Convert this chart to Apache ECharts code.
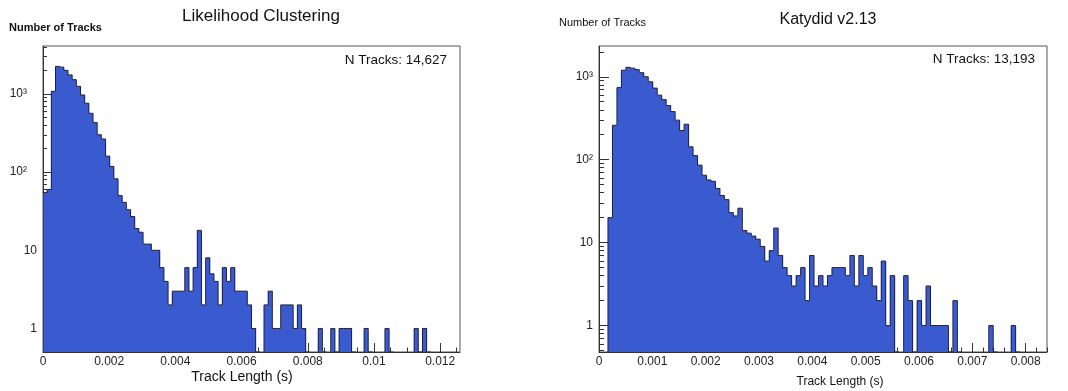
<!DOCTYPE html>
<html>
<head>
<meta charset="utf-8">
<script src="https://cdn.jsdelivr.net/npm/echarts@6/dist/echarts.min.js"></script>
<style>html,body{margin:0;padding:0;background:#fff}#c{width:1068px;height:391px}</style>
</head>
<body>
<div id="c"></div>
<script>
// ---------------- data ----------------
const leftTitle = 'Likelihood Clustering';
const rightTitle = 'Katydid v2.13';
const yTitle = 'Number of Tracks';
const xTitle = 'Track Length (s)';
const leftNote = 'N Tracks: 14,627';
const rightNote = 'N Tracks: 13,193';

const leftRange = [0, 0.0126];   // histogram x range (100 bins)
const rightRange = [0, 0.0084];

const leftCounts = [
  55, 60, 1080, 2250, 2200, 2000, 1750, 1520, 1250, 970,
  760, 565, 430, 300, 265, 160, 118, 82, 50, 41,
  33, 27, 19, 17, 12, 12, 10, 10, 6, 4,
  2, 3, 3, 3, 6, 3, 6, 18, 2, 8,
  5, 4, 2, 6, 4, 6, 3, 3, 3, 2,
  1, 0, 0, 2, 3, 1, 1, 2, 2, 2,
  1, 2, 1, 0, 0, 0, 1, 0, 0, 1,
  0, 1, 1, 1, 0, 0, 0, 1, 0, 0,
  0, 0, 1, 0, 0, 0, 0, 0, 0, 1,
  0, 1, 0, 0, 0, 0, 0, 0, 0, 0
];
const rightCounts = [
  0, 0, 20, 260, 740, 1200, 1300, 1270, 1220, 1120,
  1000, 870, 730, 600, 530, 450, 380, 300, 225, 268,
  143, 112, 86, 65, 57, 55, 45, 37, 33, 23,
  21, 26, 14, 13, 12, 11, 9, 6, 8, 15,
  7, 5, 4, 3, 4, 5, 2, 7, 3, 4,
  3, 4, 5, 5, 5, 4, 7, 3, 7, 4,
  5, 3, 2, 6, 1, 4, 0, 0, 4, 2,
  0, 2, 1, 3, 1, 1, 1, 1, 0, 2,
  0, 0, 0, 0, 0, 0, 0, 1, 0, 0,
  0, 0, 1, 0, 0, 0, 0, 0, 0, 0
];

const leftXTicks = [0, 0.002, 0.004, 0.006, 0.008, 0.01, 0.012];
const rightXTicks = [0, 0.001, 0.002, 0.003, 0.004, 0.005, 0.006, 0.007, 0.008];
const leftXMinorStep = 0.0005;
const rightXMinorStep = 0.0002;
const yTicks = [1, 10, 100, 1000];
const yMinorMultipliers = [2, 3, 4, 5, 6, 7, 8, 9];
const leftYRange = [0.5, 4100];
const rightYRange = [0.48, 2350];

// ---------------- helpers ----------------
const FONT = '"Liberation Sans", Arial, sans-serif';
const FILL = '#3a5bd0';
const EDGE = '#1b1f4a';
const AXIS = '#333';

function histData(counts, range) {
  const w = (range[1] - range[0]) / counts.length;
  return counts.map((c, i) => [range[0] + i * w, range[0] + (i + 1) * w, c, i > 0 ? counts[i - 1] : 0]);
}
function minorX(range, step) {
  const out = [];
  const n = Math.floor((range[1] - range[0]) / step + 1e-6);
  for (let i = 0; i <= n; i++) out.push(+(range[0] + i * step).toFixed(6));
  return out;
}
function minorY(range) {
  const out = [];
  [0.1, 1, 10, 100, 1000].forEach(d => yMinorMultipliers.forEach(m => {
    const v = +(m * d).toPrecision(6);
    if (v > range[0] && v < range[1]) out.push(v);
  }));
  return out;
}
function fmtX(v) {
  if (Math.abs(v) < 1e-12) return '0';
  return String(parseFloat(v.toPrecision(6)));
}
const SUP = {2: '\u00b2', 3: '\u00b3'};
function fmtYFactory(pad) {
  return function (v) {
    const e = Math.round(Math.log10(v));
    if (e >= 2) return pad ? '{p|10' + SUP[e] + '}' : '10' + SUP[e];
    return String(Math.round(v));
  };
}

function fillRender(yMin) {
  return function (params, api) {
    const c = api.value(2);
    if (!(c > 0)) return null;
    const tl = api.coord([api.value(0), c]);
    const br = api.coord([api.value(1), yMin]);
    const x0 = Math.round(tl[0]), x1 = Math.round(br[0]);
    return {
      type: 'rect',
      shape: {x: x0, y: tl[1], width: x1 - x0, height: br[1] - tl[1]},
      style: {fill: FILL}
    };
  };
}
function edgeRender(yMin) {
  return function (params, api) {
    const c = api.value(2), p = api.value(3);
    if (!(c > 0) && !(p > 0)) return null;
    const hc = c > 0 ? c : yMin, hp = p > 0 ? p : yMin;
    const a = api.coord([api.value(0), hp]);
    const b = api.coord([api.value(0), hc]);
    const d = api.coord([api.value(1), hc]);
    return {
      type: 'polyline',
      shape: {points: [a, b, d]},
      style: {stroke: EDGE, lineWidth: 1, fill: null}
    };
  };
}

function xAxesFor(grid, range, major, minorStep) {
  return [
    {
      type: 'value', gridIndex: grid, position: 'bottom', min: range[0], max: range[1],
      axisLine: {show: true, onZero: false, lineStyle: {color: AXIS, width: 1}},
      axisTick: {show: true, inside: true, length: 9, customValues: major, lineStyle: {color: AXIS}},
      axisLabel: {show: true, customValues: major, formatter: fmtX, fontSize: 12, color: '#222', fontFamily: FONT, margin: 4},
      splitLine: {show: false}
    },
    {
      type: 'value', gridIndex: grid, position: 'bottom', min: range[0], max: range[1],
      axisLine: {show: false},
      axisTick: {show: true, inside: true, length: 4.5, customValues: minorX(range, minorStep), lineStyle: {color: AXIS}},
      axisLabel: {show: false},
      splitLine: {show: false}
    }
  ];
}
function yAxesFor(grid, range, pad, majorLen, minorLen) {
  return [
    {
      type: 'log', logBase: 10, gridIndex: grid, position: 'left', min: range[0], max: range[1],
      axisLine: {show: true, onZero: false, lineStyle: {color: AXIS, width: 1}},
      axisTick: {show: true, inside: true, length: majorLen, customValues: yTicks, lineStyle: {color: AXIS}},
      axisLabel: {
        show: true, customValues: yTicks, formatter: fmtYFactory(pad), fontSize: 12, color: '#222',
        fontFamily: FONT, margin: 6,
        rich: {p: {fontSize: 12, color: '#222', fontFamily: FONT, padding: [0, 10, 0, 0]}}
      },
      splitLine: {show: false}
    },
    {
      type: 'log', logBase: 10, gridIndex: grid, position: 'left', min: range[0], max: range[1],
      axisLine: {show: false},
      axisTick: {show: true, inside: true, length: minorLen, customValues: minorY(range), lineStyle: {color: AXIS}},
      axisLabel: {show: false},
      splitLine: {show: false}
    }
  ];
}

function txt(x, y, text, font, align) {
  return {
    type: 'text', x: x, y: y, silent: true,
    style: {text: text, font: font, fill: '#111', align: align || 'left', verticalAlign: 'middle'}
  };
}

const chart = echarts.init(document.getElementById('c'), null, {renderer: 'canvas'});
chart.setOption({
  animation: false,
  backgroundColor: '#fff',
  grid: [
    {left: 43, top: 46, width: 417, height: 306, show: true, borderColor: '#555', borderWidth: 1, outerBoundsMode: 'none', containLabel: false},
    {left: 599, top: 46, width: 448, height: 306, show: true, borderColor: '#555', borderWidth: 1, outerBoundsMode: 'none', containLabel: false}
  ],
  xAxis: [].concat(
    xAxesFor(0, leftRange, leftXTicks, leftXMinorStep),
    xAxesFor(1, rightRange, rightXTicks, rightXMinorStep)
  ),
  yAxis: [].concat(
    yAxesFor(0, leftYRange, true, 8, 4),
    yAxesFor(1, rightYRange, false, 10, 5)
  ),
  series: [
    {type: 'custom', xAxisIndex: 0, yAxisIndex: 0, clip: true, z: 2, silent: true,
     encode: {x: [0, 1], y: 2}, data: histData(leftCounts, leftRange), renderItem: fillRender(leftYRange[0])},
    {type: 'custom', xAxisIndex: 0, yAxisIndex: 0, clip: true, z: 3, silent: true,
     encode: {x: [0, 1], y: 2}, data: histData(leftCounts, leftRange), renderItem: edgeRender(leftYRange[0])},
    {type: 'custom', xAxisIndex: 2, yAxisIndex: 2, clip: true, z: 2, silent: true,
     encode: {x: [0, 1], y: 2}, data: histData(rightCounts, rightRange), renderItem: fillRender(rightYRange[0])},
    {type: 'custom', xAxisIndex: 2, yAxisIndex: 2, clip: true, z: 3, silent: true,
     encode: {x: [0, 1], y: 2}, data: histData(rightCounts, rightRange), renderItem: edgeRender(rightYRange[0])}
  ],
  graphic: [
    txt(261, 16, leftTitle, '17px ' + FONT, 'center'),
    txt(828, 20, rightTitle, '16px ' + FONT, 'center'),
    txt(9, 28, yTitle, 'bold 11px ' + FONT, 'left'),
    txt(559, 23, yTitle, '11px ' + FONT, 'left'),
    txt(447, 60, leftNote, '13.5px ' + FONT, 'right'),
    txt(1035, 59, rightNote, '13.5px ' + FONT, 'right'),
    txt(242, 377, xTitle, '14px ' + FONT, 'center'),
    txt(840, 382, xTitle, '12px ' + FONT, 'center')
  ]
});
</script>
</body>
</html>
